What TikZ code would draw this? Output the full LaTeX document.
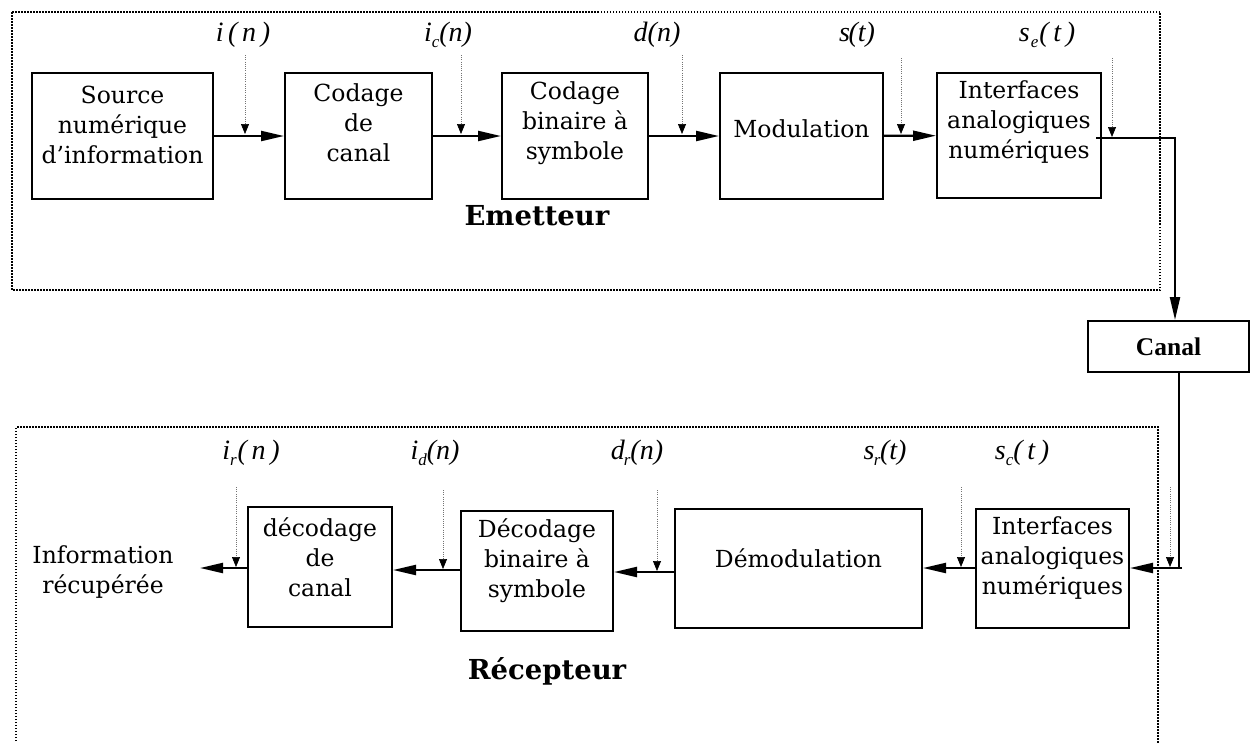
\documentclass[tikz,border=0pt]{standalone}
\usepackage{fontspec}
\setmainfont{DejaVu Serif}
\newfontfamily\labfont{Liberation Serif}
\usetikzlibrary{arrows.meta}
\newcommand\sbs[1]{\raisebox{-0.22em}{\fontsize{17}{17}\selectfont #1}}
\begin{document}
\begin{tikzpicture}[x=1pt,y=-1pt,
  blk/.style={draw, line width=2pt, inner sep=0pt},
  txt/.style={align=center, font=\fontsize{23.5}{30}\selectfont, inner sep=0pt},
  sig/.style={font=\labfont\itshape\fontsize{28}{28}\selectfont, inner sep=0pt},
  ttl/.style={font=\bfseries\fontsize{27.5}{27.5}\selectfont, inner sep=0pt},
  flow/.style={line width=2.2pt, -{Triangle[length=23pt,width=10pt]}},
  probe/.style={draw=black!55, line width=0.7pt, dash pattern=on 1pt off 1.2pt,
    -{Triangle[length=10pt,width=8pt,fill=black,color=black]}},
  frame/.style={line width=1.6pt, dash pattern=on 1.5pt off 1.5pt}]
\useasboundingbox (0,0) rectangle (1253,742);

% frames
\draw[frame] (12,12) rectangle (1160,290);
\coordinate (fa) at (16,750);
\coordinate (fb) at (16,427);
\coordinate (fc) at (1158,427);
\coordinate (fd) at (1158,750);
\draw[frame] (fa) -- (fb) -- (fc) -- (fd);

% emitter boxes
\node[blk, minimum width=181pt, minimum height=126pt] (e1) at (122.5,136) {};
\node[blk, minimum width=147pt, minimum height=126pt] (e2) at (358.5,136) {};
\node[blk, minimum width=146pt, minimum height=126pt] (e3) at (575,136) {};
\node[blk, minimum width=163pt, minimum height=126pt] (e4) at (801.5,136) {};
\node[blk, minimum width=164pt, minimum height=125pt] (e5) at (1019,135.5) {};
\node[txt] at (122.5,125) {Source\\numérique\\d’information};
\node[txt] at (358.5,123) {Codage\\de\\canal};
\node[txt] at (575,123) {Codage\\binaire à\\symbole};
\node[txt] at (801.5,129) {Modulation};
\node[txt] at (1019,122) {Interfaces\\analogiques\\numériques};
\node[ttl] at (537,216) {Emetteur};

% channel
\node[blk, minimum width=161pt, minimum height=51pt,
  font=\labfont\bfseries\fontsize{25.5}{25.5}\selectfont] (canal) at (1168.5,346.5) {Canal};

% receiver boxes
\node[blk, minimum width=144pt, minimum height=120pt] (r1) at (320,567) {};
\node[blk, minimum width=152pt, minimum height=120pt] (r2) at (537,571) {};
\node[blk, minimum width=247pt, minimum height=119pt] (r3) at (798.5,568.5) {};
\node[blk, minimum width=153pt, minimum height=119pt] (r4) at (1052.5,568.5) {};
\node[txt] at (320,557) {décodage\\de\\canal};
\node[txt] at (537,561) {Décodage\\binaire à\\symbole};
\node[txt] at (798.5,558) {Démodulation};
\node[txt] at (1052.5,558) {Interfaces\\analogiques\\numériques};
\node[txt] (info) at (103,572) {Information\\récupérée};
\node[ttl] at (547,671) {Récepteur};

% main flow, emitter
\draw[flow] (e1) -- (e2);
\draw[flow] (e2) -- (e3);
\draw[flow] (e3) -- (e4);
\draw[flow] (e4) -- (e5);
\coordinate (t1) at (1175,138);
\draw[flow] ([xshift=-6pt]e5.east |- t1) -- (t1) -- (canal.north -| t1);

% main flow, receiver
\coordinate (t2) at (1182,568);
\draw[line width=2.2pt] (canal.south -| 1179,0) -- (1179,568) -- (t2);
\draw[flow] (t2) -- (r4.east |- t2);
\draw[flow] (r4.west |- t2) -- (r3.east |- t2);
\draw[flow] (r3.west |- 0,572) -- (r2.east |- 0,572);
\draw[flow] (r2.west |- 0,570) -- (r1.east |- 0,570);
\coordinate (infoin) at (200,568);
\draw[flow] (r1.west |- infoin) -- (infoin);

% signal labels, emitter
\node[sig] (l1) at (243,35) {i\,(\,n\,)};
\node[sig] (l2) at (448,35) {i\sbs{c}(n)};
\node[sig] (l3) at (657,35) {d(n)};
\node[sig] (l4) at (857,35) {s\kern-1.5pt(t)};
\node[sig] (l5) at (1047,35) {s\kern1pt\sbs{e}\kern1pt(\,t\,)};

% signal labels, receiver
\node[sig] (m1) at (251,453) {i\sbs{r}\kern1pt(\,n\,)};
\node[sig] (m2) at (435,453) {i\sbs{d}(n)};
\node[sig] (m3) at (637,453) {d\kern-1pt\sbs{r}(n)};
\node[sig] (m4) at (885,453) {s\kern-0.5pt\sbs{r}\kern-0.5pt(t)};
\node[sig] (m5) at (1022,453) {s\sbs{c}(\,t\,)};

% probes, emitter
\coordinate (p1) at (245,55);  \coordinate (q1) at (245,134);
\coordinate (p2) at (461,55);  \coordinate (q2) at (461,134);
\coordinate (p3) at (682,55);  \coordinate (q3) at (682,134);
\coordinate (p4) at (901,58);  \coordinate (q4) at (901,134);
\coordinate (p5) at (1112,58); \coordinate (q5) at (1112,137);
\foreach \i in {1,...,5}{\draw[probe] (p\i) -- (q\i);}

% probes, receiver
\coordinate (u1) at (236,487);  \coordinate (v1) at (236,567);
\coordinate (u2) at (443,490);  \coordinate (v2) at (443,569);
\coordinate (u3) at (657,490);  \coordinate (v3) at (657,571);
\coordinate (u4) at (961,487);  \coordinate (v4) at (961,567);
\coordinate (u5) at (1170,487); \coordinate (v5) at (1170,567);
\foreach \i in {1,...,5}{\draw[probe] (u\i) -- (v\i);}
\end{tikzpicture}
\end{document}
